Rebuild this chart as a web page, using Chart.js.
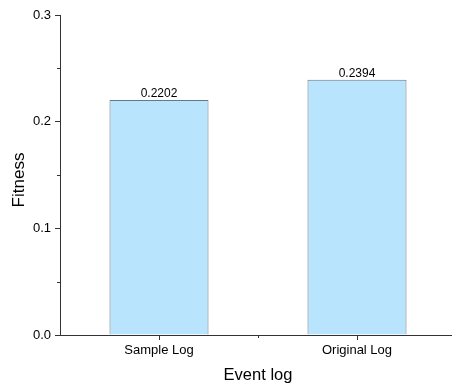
<!DOCTYPE html>
<html>
<head>
<meta charset="utf-8">
<script src="https://cdn.jsdelivr.net/npm/chart.js@4"></script>
<style>
  html, body { margin: 0; padding: 0; background: #fff; overflow: hidden; }
  #wrap { width: 452px; height: 385px; overflow: hidden; }
</style>
</head>
<body>
<div id="wrap"><canvas id="fitness-chart" width="456" height="385"></canvas></div>
<script>
const categories = ['Sample Log', 'Original Log'];
const fitness = [0.2202, 0.2394];
const yTicks = [0, 0.1, 0.2, 0.3];
const yTitle = 'Fitness';
const xTitle = 'Event log';

const font = 'Liberation Sans, Arial, sans-serif';

// minor ticks, y title, value labels on top of the bars
const extras = {
    id: 'extras',
    afterDraw(chart) {
        const ctx = chart.ctx;
        const x = chart.scales.x;
        const y = chart.scales.y;
        ctx.save();
        ctx.strokeStyle = '#333';
        ctx.lineWidth = 1;
        // y minor ticks
        for (let v = 0.05; v < 0.3; v += 0.1) {
            const py = Math.round(y.getPixelForValue(v)) + 0.5;
            ctx.beginPath();
            ctx.moveTo(x.left, py);
            ctx.lineTo(x.left - 3, py);
            ctx.stroke();
        }
        // x minor tick between categories
        const mx = Math.round((x.getPixelForValue(0) + x.getPixelForValue(1)) / 2) + 0.5;
        ctx.beginPath();
        ctx.moveTo(mx, y.bottom);
        ctx.lineTo(mx, y.bottom + 3);
        ctx.stroke();

        // value labels
        ctx.fillStyle = '#000';
        ctx.font = '12px ' + font;
        ctx.textAlign = 'center';
        ctx.textBaseline = 'bottom';
        chart.getDatasetMeta(0).data.forEach((bar, i) => {
            ctx.fillText(fitness[i].toFixed(4), bar.x, bar.y);
        });

        // y title, a bit below the middle of the axis like the original
        ctx.translate(19, (y.top + y.bottom) / 2 + 5);
        ctx.rotate(-Math.PI / 2);
        ctx.font = '17px ' + font;
        ctx.textBaseline = 'middle';
        ctx.fillText(yTitle, 0, 0);
        ctx.restore();
    }
};

new Chart(document.querySelector('#fitness-chart').getContext('2d'), {
    type: 'bar',
    data: {
        labels: categories,
        datasets: [{
            data: fitness,
            backgroundColor: '#b9e4fd',
            borderColor: '#6a7680',
            borderWidth: 1,
            barPercentage: 0.5,
            categoryPercentage: 1.0
        }]
    },
    options: {
        responsive: false,
        animation: false,
        layout: { padding: { top: 15, left: 0, right: 0, bottom: 0 } },
        plugins: { legend: { display: false }, tooltip: { enabled: false } },
        scales: {
            x: {
                offset: true,
                grid: { drawOnChartArea: false, drawTicks: true, tickLength: 5, color: '#333', offset: false },
                border: { display: true, color: '#333', width: 1 },
                ticks: { color: '#000', font: { size: 13, family: font }, padding: 3 },
                title: { display: true, text: xTitle, color: '#000', font: { size: 16.5, family: font }, padding: { top: 0, bottom: 0 } },
                afterFit(scale) { scale.height = 50; }
            },
            y: {
                min: 0,
                max: 0.3,
                afterBuildTicks(scale) { scale.ticks = yTicks.map(v => ({ value: v })); },
                grid: { drawOnChartArea: false, drawTicks: true, tickLength: 5, color: '#333' },
                border: { display: true, color: '#333', width: 1 },
                ticks: { color: '#000', font: { size: 13, family: font }, padding: 4, callback: v => v.toFixed(1) },
                afterFit(scale) { scale.width = 60; }
            }
        }
    },
    plugins: [extras]
});
</script>
</body>
</html>
